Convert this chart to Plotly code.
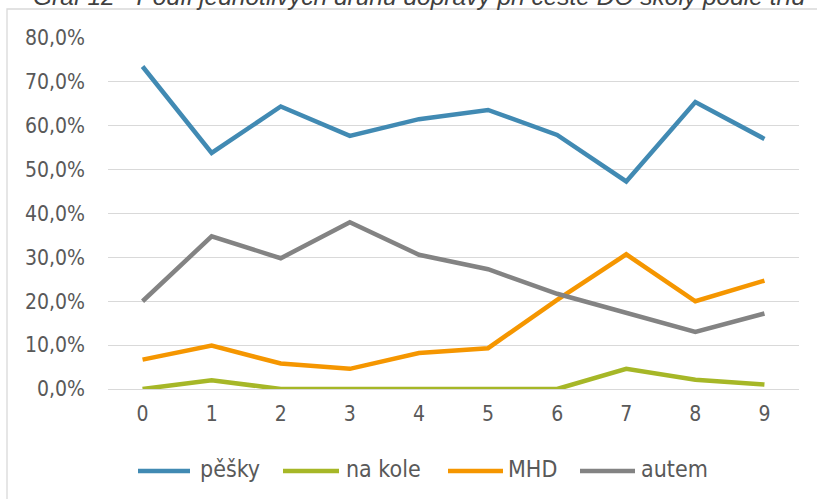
import plotly.graph_objects as go

categories = ["0", "1", "2", "3", "4", "5", "6", "7", "8", "9"]
peshky = [73.5, 53.8, 64.4, 57.7, 61.5, 63.6, 57.9, 47.3, 65.4, 57.0]
na_kole = [0.0, 2.0, 0.0, 0.0, 0.0, 0.0, 0.0, 4.6, 2.1, 1.0]
mhd = [6.7, 9.9, 5.8, 4.6, 8.2, 9.3, 20.3, 30.7, 20.0, 24.7]
autem = [20.0, 34.8, 29.8, 38.0, 30.6, 27.3, 21.7, 17.4, 13.0, 17.2]
y_ticks = [0, 10, 20, 30, 40, 50, 60, 70, 80]
y_tick_labels = ["0,0%", "10,0%", "20,0%", "30,0%", "40,0%", "50,0%", "60,0%", "70,0%", "80,0%"]
title_text = "Graf 12 - Podíl jednotlivých druhů dopravy při cestě DO školy podle tříd"

series_names = ["pěšky", "na kole", "MHD", "autem"]
series_values = [peshky, na_kole, mhd, autem]
series_colors = ["#418AB3", "#A6B727", "#F59600", "#838383"]

W, H = 817, 499
ml, mr, mt, mb = 108, 18, 38, 110
pw, ph = W - ml - mr, H - mt - mb

def px_x(p):
    return (p - ml) / pw

def px_y(p):
    return (H - mb - p) / ph

font_main = "DejaVu Sans Condensed, DejaVu Sans, sans-serif"

fig = go.Figure()
for name, vals, color in zip(series_names, series_values, series_colors):
    fig.add_trace(go.Scatter(
        x=categories, y=vals, name=name, mode="lines",
        line=dict(color=color, width=4.5, shape="linear"),
        showlegend=False,
    ))

# custom legend (long line samples like the original)
legend_sample_px = [(138, 190), (283, 339), (448, 503), (580, 635)]
legend_text_px = [198, 344, 506, 639]
legend_y_px = 469

shapes = [
    dict(type="rect", xref="paper", yref="paper",
         x0=px_x(7), x1=px_x(830), y0=px_y(520), y1=px_y(9),
         line=dict(color="#D9D9D9", width=1.3), fillcolor="rgba(0,0,0,0)",
         layer="below"),
]
annotations = [
    dict(text=title_text, xref="paper", yref="paper",
         x=px_x(419), y=px_y(12), xanchor="center", yanchor="bottom",
         showarrow=False,
         font=dict(family="Liberation Sans, Arial, sans-serif", size=24.5,
                   color="#404040", style="italic")),
]
for name, color, (sx0, sx1), tx in zip(series_names, series_colors, legend_sample_px, legend_text_px):
    shapes.append(dict(type="line", xref="paper", yref="paper",
                       x0=px_x(sx0), x1=px_x(sx1), y0=px_y(legend_y_px + 2), y1=px_y(legend_y_px + 2),
                       line=dict(color=color, width=4.5)))
    annotations.append(dict(text=name, xref="paper", yref="paper",
                            x=px_x(tx), y=px_y(legend_y_px), xanchor="left", yanchor="middle",
                            showarrow=False,
                            font=dict(family=font_main, size=23, color="#595959")))

fig.update_layout(
    width=W, height=H,
    margin=dict(l=ml, r=mr, t=mt, b=mb, autoexpand=False),
    paper_bgcolor="white", plot_bgcolor="white",
    showlegend=False,
    xaxis=dict(
        type="category", range=[-0.5, 9.5], automargin=False,
        showgrid=False, zeroline=False, showline=False,
        ticks="", ticklabelstandoff=10,
        tickfont=dict(family=font_main, size=21, color="#595959"),
    ),
    yaxis=dict(
        range=[0, 80], tickvals=y_ticks, ticktext=y_tick_labels, automargin=False,
        showgrid=True, gridcolor="#D9D9D9", gridwidth=1.3,
        zeroline=True, zerolinecolor="#D9D9D9", zerolinewidth=1.3,
        showline=False, ticks="", ticklabelstandoff=22,
        tickfont=dict(family=font_main, size=21, color="#595959"),
    ),
    shapes=shapes,
    annotations=annotations,
)

fig.write_html(
    "out.html",
    config={"displayModeBar": False},
    post_script="document.body.style.margin='0px';document.body.style.overflow='hidden';",
)
